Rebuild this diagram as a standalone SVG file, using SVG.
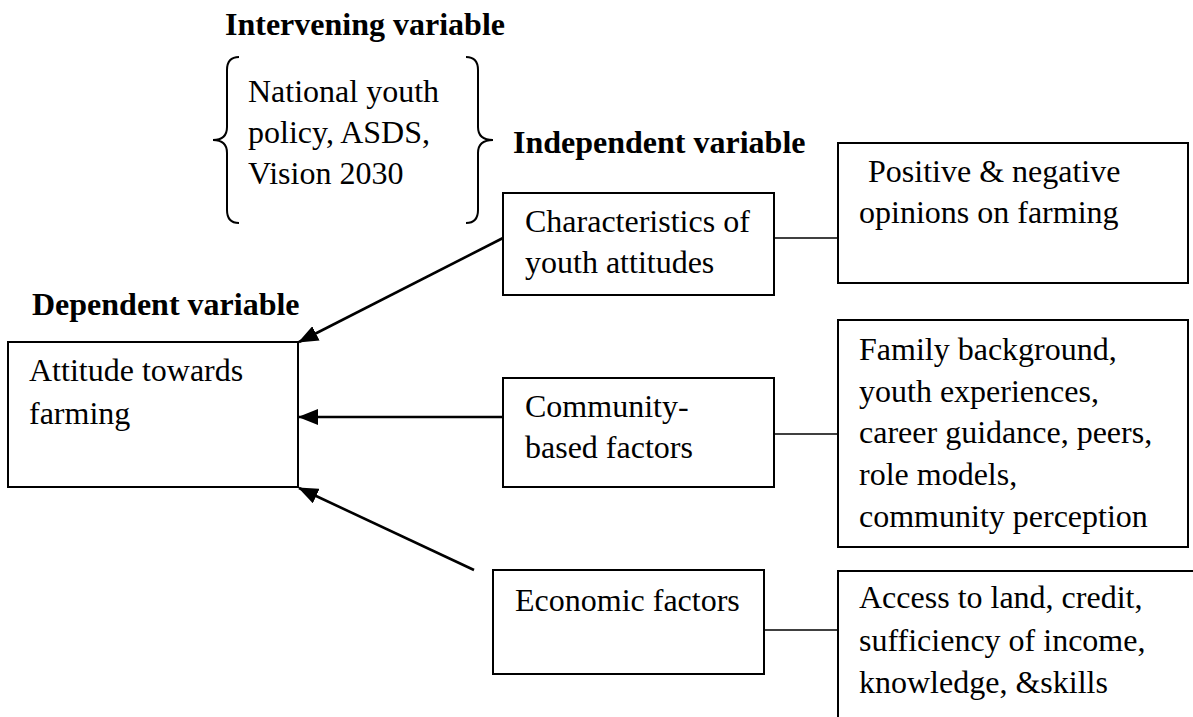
<svg xmlns="http://www.w3.org/2000/svg" width="1193" height="717" viewBox="0 0 1193 717">
<style>
text{font-family:"Liberation Serif","Times New Roman",serif;font-size:32px;fill:#000}
.b{font-weight:bold}
.box{fill:#fff;stroke:#000;stroke-width:2}
.ln{stroke:#000;stroke-width:1.6;fill:none}
.ar{stroke:#000;stroke-width:2.6;fill:none;marker-end:url(#ah)}
.br{stroke:#000;stroke-width:2;fill:none}
</style>
<defs>
<marker id="ah" markerUnits="userSpaceOnUse" markerWidth="20" markerHeight="16" refX="19" refY="8" orient="auto">
<path d="M0,0 L20,8 L0,16 Z" fill="#000"/>
</marker>
</defs>
<rect width="1193" height="717" fill="#fff"/>
<g id="headings">
<text class="b" x="225" y="35">Intervening variable</text>
<text class="b" x="513" y="153">Independent variable</text>
<text class="b" x="32" y="315">Dependent variable</text>
</g>
<g id="intervening">
<path class="br" d="M239,57 Q227,57 227,70 L227,127 Q227,140 213,140 Q227,140 227,153 L227,210 Q227,223 239,223"/>
<path class="br" d="M466,57 Q478,57 478,70 L478,127 Q478,140 493,140 Q478,140 478,153 L478,210 Q478,223 466,223"/>
<text x="248" y="102">National youth</text>
<text x="248" y="143">policy, ASDS,</text>
<text x="248" y="184">Vision 2030</text>
</g>
<g id="connectors">
<line class="ar" x1="503" y1="238" x2="299" y2="342"/>
<line class="ar" x1="503" y1="417" x2="299" y2="417"/>
<line class="ar" x1="474" y1="570" x2="299" y2="488"/>
<line class="ln" x1="774" y1="238" x2="838" y2="238"/>
<line class="ln" x1="774" y1="434" x2="838" y2="434"/>
<line class="ln" x1="764" y1="630" x2="838" y2="630"/>
</g>
<g id="attitude">
<rect class="box" x="8" y="342" width="290" height="145"/>
<text x="29" y="381">Attitude towards</text>
<text x="29" y="424">farming</text>
</g>
<g id="characteristics">
<rect class="box" x="503" y="193" width="271" height="102"/>
<text x="525" y="232">Characteristics of</text>
<text x="525" y="273">youth attitudes</text>
</g>
<g id="community">
<rect class="box" x="503" y="378" width="271" height="109"/>
<text x="525" y="417">Community-</text>
<text x="525" y="458">based factors</text>
</g>
<g id="economic">
<rect class="box" x="493" y="570" width="271" height="104"/>
<text x="515" y="611">Economic factors</text>
</g>
<g id="opinions">
<rect class="box" x="838" y="143" width="350" height="140"/>
<text x="868" y="182">Positive &amp; negative</text>
<text x="859" y="223">opinions on farming</text>
</g>
<g id="family">
<rect class="box" x="838" y="320" width="350" height="227"/>
<text x="859" y="360">Family background,</text>
<text x="859" y="402">youth experiences,</text>
<text x="859" y="443">career guidance, peers,</text>
<text x="859" y="485">role models,</text>
<text x="859" y="527">community perception</text>
</g>
<g id="access">
<path class="ln" style="stroke-width:2" d="M838,717 L838,571 L1193,571"/>
<text x="859" y="608">Access to land, credit,</text>
<text x="859" y="651">sufficiency of income,</text>
<text x="859" y="693">knowledge, &amp;skills</text>
</g>
</svg>
